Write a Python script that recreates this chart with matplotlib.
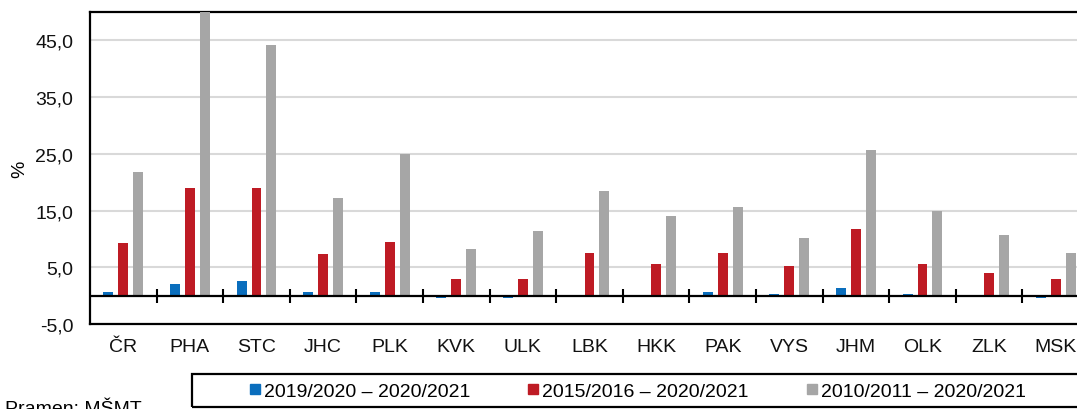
import matplotlib
matplotlib.use("Agg")
import matplotlib.pyplot as plt
import numpy as np
from matplotlib.lines import Line2D
from matplotlib.patches import Rectangle

plt.rcParams['font.family'] = ['Liberation Sans', 'DejaVu Sans']

regions = ['ČR', 'PHA', 'STC', 'JHC', 'PLK', 'KVK', 'ULK', 'LBK', 'HKK',
           'PAK', 'VYS', 'JHM', 'OLK', 'ZLK', 'MSK']
# year-on-year change, 5-year change and 10-year change (%)
chg_1y = [0.7, 2.0, 2.6, 0.6, 0.6, -0.5, -0.4, 0.0, 0.0, 0.7, 0.3, 1.3, 0.3, 0.0, -0.5]
chg_5y = [9.2, 18.9, 18.9, 7.4, 9.4, 3.0, 3.0, 7.6, 5.6, 7.6, 5.2, 11.7, 5.6, 4.0, 3.0]
chg_10y = [21.8, 52.0, 44.2, 17.2, 24.9, 8.2, 11.4, 18.5, 14.0, 15.6, 10.1, 25.6, 14.9, 10.7, 7.5]
series_names = ['2019/2020 – 2020/2021', '2015/2016 – 2020/2021', '2010/2011 – 2020/2021']
colors = ['#0A6EBD', '#BE1B24', '#A6A6A6']
yticks = [-5, 5, 15, 25, 35, 45]

fig = plt.figure(figsize=(10.77, 4.10), dpi=100)
ax = fig.add_axes([90 / 1077, 85 / 410, 999 / 1077, 312 / 410])

x = np.arange(len(regions))
w = 0.15
step = 0.225
for i, vals in enumerate([chg_1y, chg_5y, chg_10y]):
    ax.bar(x + (i - 1) * step, vals, width=w, color=colors[i], zorder=3)

ax.set_xlim(-0.5, len(regions) - 0.5)
ax.set_ylim(-5, 50)
ax.set_yticks(yticks)
ax.set_yticklabels([('%.1f' % v).replace('.', ',') for v in yticks])
ax.yaxis.grid(True, color='#D9D9D9', lw=1.5, zorder=0)
ax.set_axisbelow(True)
ax.set_xticks(x)
ax.set_xticklabels(regions)
ax.tick_params(axis='both', length=0, labelsize=14, colors='#111111')
ax.tick_params(axis='x', pad=10)
ax.tick_params(axis='y', pad=12)
ax.set_ylabel('%', fontsize=14, labelpad=5)

for s in ['left', 'top', 'bottom', 'right']:
    ax.spines[s].set_linewidth(1.6)
    ax.spines[s].set_color('black')

# zero line with category separators
ax.axhline(0, color='black', lw=1.6, zorder=4)
bounds = x[1:] - 0.5
ax.plot(bounds, np.zeros(len(bounds)), ls='none', marker='|', ms=10, mew=1.5,
        color='black', zorder=5)

# legend box
fig.patches.append(Rectangle((192 / 1077, 2 / 410), 900 / 1077, 33 / 410,
                             transform=fig.transFigure, fill=False,
                             edgecolor='black', lw=1.6))
handles = [Line2D([], [], ls='none', marker='s', ms=7, color=c) for c in colors]
fig.legend(handles, series_names, loc='center', bbox_to_anchor=(638 / 1077, 18 / 410),
           ncol=3, frameon=False, fontsize=14, handlelength=0.5, handletextpad=0.2,
           columnspacing=3.0, borderpad=0, borderaxespad=0)

# source note, partly below the lower edge as in the original
fig.text(5 / 1077, -4 / 410, 'Pramen: MŠMT', fontsize=14, ha='left', va='baseline')

fig.savefig('out.png', dpi=100)
